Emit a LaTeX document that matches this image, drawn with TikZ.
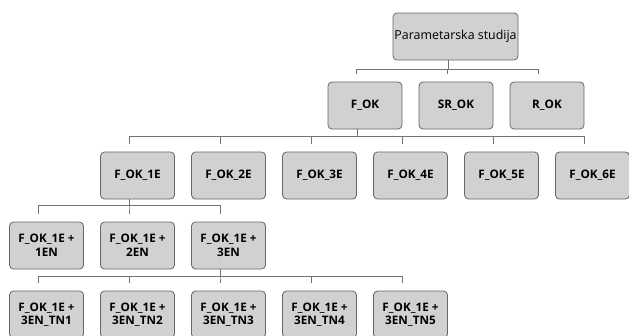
\documentclass[tikz,border=0pt]{standalone}
\usepackage{fontspec}
\setmainfont{Open Sans}
\usetikzlibrary{calc}
\begin{document}
\begin{tikzpicture}[x=1pt,y=-1pt,
  box/.style={draw=black!60, fill=black!18, rounded corners=4pt, line width=0.8pt,
    minimum width=74pt, minimum height=47pt, align=center, inner sep=1pt,
    font=\fontsize{11.7}{13.6}\selectfont\bfseries},
  topbox/.style={box, minimum width=125pt, font=\fontsize{12.4}{14}\selectfont},
  conn/.style={draw=black!55, line width=0.8pt}]
\clip (0,0) rectangle (629,335);
% nodes
\node[topbox] (ps) at (455.5,36.5) {Parametarska studija};
\node[box] (fok) at (365,105.5) {F\_OK};
\node[box] (srok) at (456,105.5) {SR\_OK};
\node[box] (rok) at (547,105.5) {R\_OK};
\node[box] (e1) at (137.5,175.5) {F\_OK\_1E};
\node[box] (e2) at (228.5,175.5) {F\_OK\_2E};
\node[box] (e3) at (319.5,175.5) {F\_OK\_3E};
\node[box] (e4) at (410.5,175.5) {F\_OK\_4E};
\node[box] (e5) at (501.5,175.5) {F\_OK\_5E};
\node[box] (e6) at (592.5,175.5) {F\_OK\_6E};
\node[box] (n1) at (46.5,245.5) {F\_OK\_1E +\\1EN};
\node[box] (n2) at (137.5,245.5) {F\_OK\_1E +\\2EN};
\node[box] (n3) at (228.5,245.5) {F\_OK\_1E +\\3EN};
\node[box] (t1) at (46.5,314.5) {F\_OK\_1E +\\3EN\_TN1};
\node[box] (t2) at (137.5,314.5) {F\_OK\_1E +\\3EN\_TN2};
\node[box] (t3) at (228.5,314.5) {F\_OK\_1E +\\3EN\_TN3};
\node[box] (t4) at (319.5,314.5) {F\_OK\_1E +\\3EN\_TN4};
\node[box] (t5) at (410.5,314.5) {F\_OK\_1E +\\3EN\_TN5};
% connectors
\foreach \c in {fok,srok,rok}
  \draw[conn] ($(ps.south)+(-7.5,0)$) -- ++(0,9) -| ($(\c.north)+(-8.5,-8)$);
\foreach \c in {e1,e2,e3,e4,e5,e6}
  \draw[conn] ($(fok.south)+(-8,0)$) -- ++(0,6.5) -| ($(\c.north)+(-8.5,-8)$);
\foreach \c in {n1,n2,n3}
  \draw[conn] ($(e1.south)+(-8.5,0)$) -- ++(0,6) -| ($(\c.north)+(-8.5,-8)$);
\foreach \c in {t1,t2,t3,t4,t5}
  \draw[conn] ($(n3.south)+(-8.5,0)$) -- ++(0,7) -| ($(\c.north)+(-8.5,-8)$);
\end{tikzpicture}
\end{document}
